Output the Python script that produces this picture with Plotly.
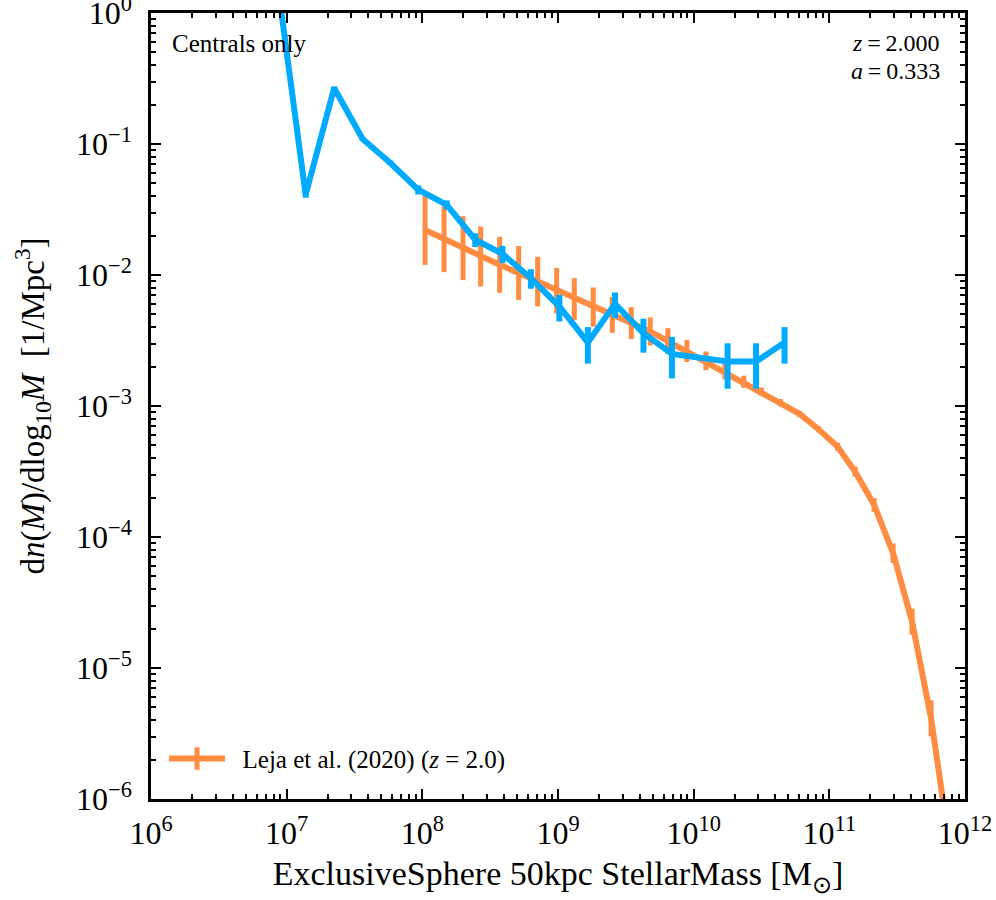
import numpy as np
import plotly.graph_objects as go

# Leja et al. (2020) stellar mass function at z = 2 (log10 values)
leja_logm = [8.02, 8.16, 8.30, 8.43, 8.57, 8.71, 8.85, 8.99, 9.12, 9.26,
             9.40, 9.54, 9.68, 9.81, 9.95, 10.09, 10.23, 10.37, 10.50, 10.64,
             10.78, 10.92, 11.06, 11.19, 11.33, 11.47, 11.61, 11.75, 11.88]
leja_logphi = [-1.656, -1.726, -1.795, -1.859, -1.922, -1.985, -2.050, -2.120, -2.184, -2.245,
               -2.304, -2.367, -2.431, -2.505, -2.580, -2.655, -2.735, -2.815, -2.890, -2.974,
               -3.060, -3.177, -3.310, -3.501, -3.755, -4.124, -4.646, -5.384, -6.310]
leja_err_dex = [0.267, 0.252, 0.244, 0.229, 0.214, 0.206, 0.189, 0.174, 0.160, 0.150,
                0.137, 0.122, 0.107, 0.099, 0.084, 0.071, 0.061, 0.046, 0.031, 0.027,
                0.023, 0.023, 0.031, 0.038, 0.053, 0.074, 0.099, 0.137, 0.180]

# simulation, centrals only
sim_logm = [6.94, 7.14, 7.35, 7.56, 7.76, 7.97, 8.18, 8.39, 8.59,
            8.80, 9.01, 9.22, 9.42, 9.63, 9.84, 10.25, 10.46, 10.67]
sim_logphi = [0.17, -1.388, -0.573, -0.962, -1.141, -1.349, -1.464, -1.731, -1.838,
              -2.024, -2.241, -2.515, -2.220, -2.444, -2.602, -2.661, -2.661, -2.515]
sim_rel_err = [0.05, 0.05, 0.03, 0.03, 0.04, 0.08, 0.08, 0.12, 0.15,
               0.17, 0.23, 0.31, 0.22, 0.29, 0.35, 0.38, 0.38, 0.31]

x_tick_exp = [6, 7, 8, 9, 10, 11, 12]
y_tick_exp = [-6, -5, -4, -3, -2, -1, 0]

ORANGE = "#FF8C40"
BLUE = "#00AAFF"
FONT = "Liberation Serif"
TS = "\u2009"  # thin space around '='

leja_m = 10 ** np.array(leja_logm)
leja_phi = 10 ** np.array(leja_logphi)
leja_up = 10 ** (np.array(leja_logphi) + np.array(leja_err_dex)) - leja_phi
leja_dn = leja_phi - 10 ** (np.array(leja_logphi) - np.array(leja_err_dex))

sim_m = 10 ** np.array(sim_logm)
sim_phi = 10 ** np.array(sim_logphi)
sim_err = sim_phi * np.array(sim_rel_err)

fig = go.Figure()

fig.add_trace(go.Scatter(
    x=leja_m, y=leja_phi, mode="lines",
    line=dict(color=ORANGE, width=6),
    error_y=dict(type="data", symmetric=False, array=leja_up, arrayminus=leja_dn,
                 color=ORANGE, thickness=5, width=0),
    showlegend=False,
))

# legend entry only (line with an error bar through it)
fig.add_trace(go.Scatter(
    x=[None], y=[None], mode="lines+markers",
    name="\u00a0\u00a0Leja et al. (2020) (<i>z</i> = 2.0)",
    line=dict(color=ORANGE, width=6),
    marker=dict(symbol="line-ns", size=24, line=dict(color=ORANGE, width=6)),
))

fig.add_trace(go.Scatter(
    x=sim_m, y=sim_phi, mode="lines",
    line=dict(color=BLUE, width=6),
    error_y=dict(type="data", array=sim_err, color=BLUE, thickness=6, width=0),
    showlegend=False,
))

axis_common = dict(
    type="log", showline=True, linewidth=2.5, linecolor="black", mirror="ticks",
    ticks="inside", ticklen=10, tickwidth=2, tickcolor="black",
    showgrid=False, zeroline=False, ticklabeloverflow="allow", automargin=False,
    tickfont=dict(family=FONT, size=32, color="black"),
    minor=dict(ticks="inside", ticklen=5, tickwidth=1.5, tickcolor="black",
               dtick="D1", showgrid=False),
)

fig.update_layout(
    width=996, height=900,
    margin=dict(l=151, r=31, t=13, b=101),
    paper_bgcolor="white", plot_bgcolor="white",
    font=dict(family=FONT, color="black"),
    xaxis=dict(
        axis_common, range=[6, 12],
        tickmode="array", tickvals=[10.0 ** e for e in x_tick_exp],
        ticktext=["10<sup>%d</sup>" % e for e in x_tick_exp],
        ticklabelstandoff=4,
        title=dict(text="ExclusiveSphere 50kpc StellarMass [M<sub>⊙</sub>]",
                   font=dict(size=34), standoff=12),
    ),
    yaxis=dict(
        axis_common, range=[-6, 0],
        tickmode="array", tickvals=[10.0 ** e for e in y_tick_exp],
        ticktext=["10<sup>%s</sup>" % (str(e).replace("-", "−")) for e in y_tick_exp],
        ticklabelstandoff=10,
        title=dict(text="d<i>n</i>(<i>M</i>)/dlog<sub>10</sub><i>M</i>  [1/Mpc<sup>3</sup>]",
                   font=dict(size=33), standoff=22),
    ),
    legend=dict(x=0.016, y=0.022, xanchor="left", yanchor="bottom",
                bgcolor="rgba(0,0,0,0)", font=dict(size=25), itemwidth=56),
    annotations=[
        dict(text="Centrals only", xref="paper", yref="paper", x=0.023, y=0.9615,
             xanchor="left", yanchor="middle", showarrow=False, font=dict(size=25)),
        dict(text="<i>z</i>" + TS + "=" + TS + "2.000", xref="paper", yref="paper",
             x=0.972, y=0.9615, xanchor="right", yanchor="middle",
             showarrow=False, font=dict(size=24)),
        dict(text="<i>a</i>" + TS + "=" + TS + "0.333", xref="paper", yref="paper",
             x=0.972, y=0.926, xanchor="right", yanchor="middle",
             showarrow=False, font=dict(size=24)),
    ],
)

fig.write_html("out.html", config={"displayModeBar": False},
               post_script="document.body.style.margin='0';")
